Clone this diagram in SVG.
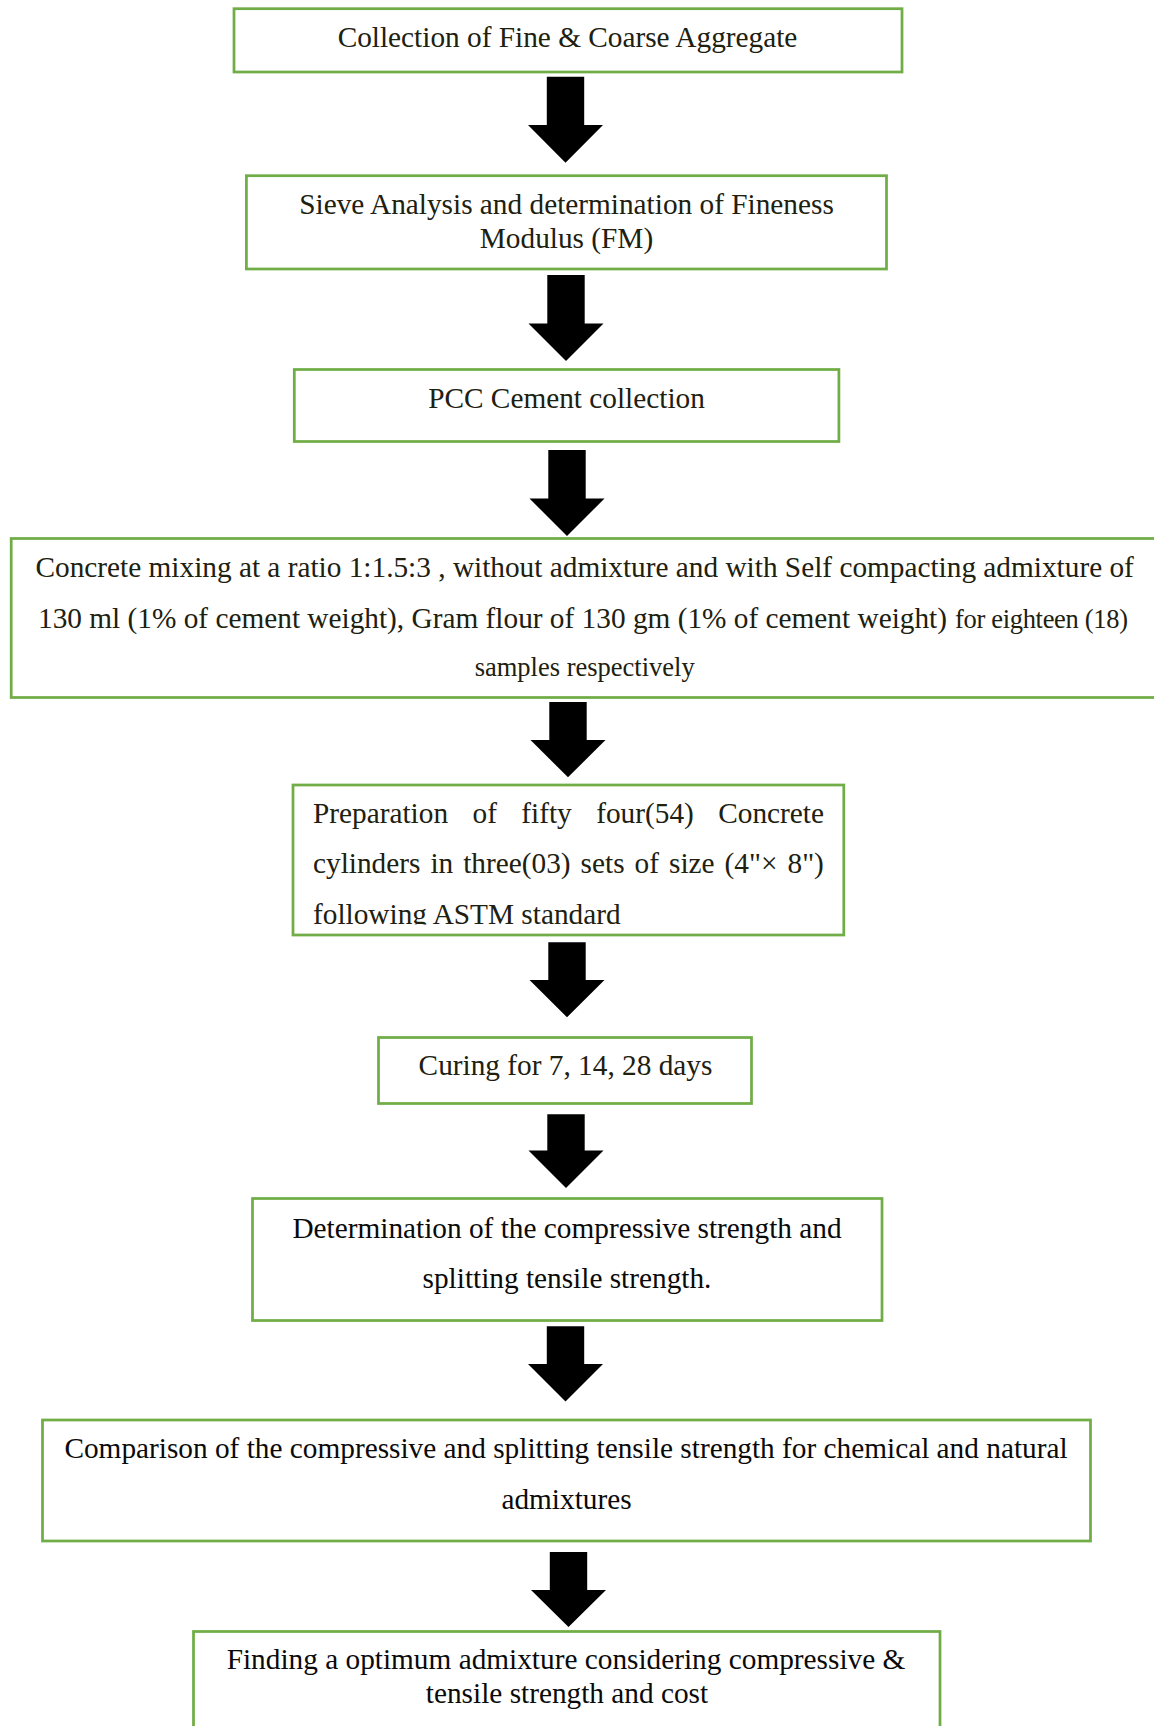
<svg xmlns="http://www.w3.org/2000/svg" width="1154" height="1726" viewBox="0 0 1154 1726">
<style>
.box{fill:#fff;stroke:#70ad47;stroke-width:2.75}
.t{font-family:"Liberation Serif","Times New Roman",serif;font-size:29.3px;fill:#20200f}
.k{fill:#0a0a0a}
.c{text-anchor:middle}
.s{font-size:26.5px}
.arr{fill:#000}
</style>
<defs>
<clipPath id="clip5"><rect x="294" y="786" width="548" height="138.5"/></clipPath>
</defs>
<rect x="0" y="0" width="1154" height="1726" fill="#fff"/>
<g id="connectors">
<polygon class="arr" points="546.8,76.7 584.2,76.7 584.2,125 603,125 565.5,162.7 528,125 546.8,125"/>
<polygon class="arr" points="547.3,275 584.7,275 584.7,323.5 603.5,323.5 566,361 528.5,323.5 547.3,323.5"/>
<polygon class="arr" points="548.3,450 585.7,450 585.7,498.5 604.5,498.5 567,536 529.5,498.5 548.3,498.5"/>
<polygon class="arr" points="549.3,702 586.7,702 586.7,740 605.5,740 568,777.3 530.5,740 549.3,740"/>
<polygon class="arr" points="548.3,942.3 585.7,942.3 585.7,980 604.5,980 567,1017.3 529.5,980 548.3,980"/>
<polygon class="arr" points="547.3,1114.3 584.7,1114.3 584.7,1150.6 603.5,1150.6 566,1188 528.5,1150.6 547.3,1150.6"/>
<polygon class="arr" points="546.8,1326.3 584.2,1326.3 584.2,1364 603,1364 565.5,1401.6 528,1364 546.8,1364"/>
<polygon class="arr" points="549.8,1552 587.2,1552 587.2,1590 606,1590 568.5,1627 531,1590 549.8,1590"/>
</g>
<g id="node1">
<rect class="box" x="234" y="8.7" width="668" height="63.3"/>
<text class="t c" x="567.5" y="47">Collection of Fine &amp; Coarse Aggregate</text>
</g>
<g id="node2">
<rect class="box" x="246.4" y="175.7" width="640.1" height="93.3"/>
<text class="t c" x="566.5" y="213.5">Sieve Analysis and determination of Fineness</text>
<text class="t c" x="566.5" y="248.3">Modulus (FM)</text>
</g>
<g id="node3">
<rect class="box" x="294.3" y="369.5" width="544.6" height="72"/>
<text class="t c" x="566.5" y="408.3">PCC Cement collection</text>
</g>
<g id="node4">
<rect class="box" x="11.2" y="538.5" width="1147" height="159"/>
<text class="t" x="35.5" y="576.7">Concrete mixing at a ratio 1:1.5:3 , without admixture and with Self compacting admixture of</text>
<text class="t" x="38" y="628.3" textLength="909" lengthAdjust="spacing">130 ml (1% of cement weight), Gram flour of 130 gm (1% of cement weight)</text>
<text class="t s" x="955" y="628.3" textLength="173" lengthAdjust="spacing">for eighteen (18)</text>
<text class="t s c" x="584.7" y="675.5">samples respectively</text>
</g>
<g id="node5">
<rect class="box" x="293" y="785" width="550.8" height="150"/>
<g clip-path="url(#clip5)">
<text class="t" y="823.3"><tspan x="313">Preparation</tspan><tspan x="472.5">of</tspan><tspan x="521.3">fifty</tspan><tspan x="596.2">four(54)</tspan><tspan x="718.2">Concrete</tspan></text>
<text class="t" y="873"><tspan x="313">cylinders</tspan><tspan x="430.4">in</tspan><tspan x="463.2">three(03)</tspan><tspan x="580.6">sets</tspan><tspan x="634.6">of</tspan><tspan x="669">size</tspan><tspan x="724.6">(4"×</tspan><tspan x="787.5">8")</tspan></text>
<text class="t" x="313" y="923.5">following ASTM standard</text>
</g>
</g>
<g id="node6">
<rect class="box" x="378.5" y="1037.5" width="373" height="66"/>
<text class="t c" x="565.5" y="1075">Curing for 7, 14, 28 days</text>
</g>
<g id="node7">
<rect class="box" x="252.5" y="1198.5" width="629.5" height="122"/>
<text class="t k c" x="567" y="1237.5">Determination of the compressive strength and</text>
<text class="t k c" x="567" y="1288">splitting tensile strength.</text>
</g>
<g id="node8">
<rect class="box" x="42.5" y="1420" width="1048" height="121"/>
<text class="t k c" x="566" y="1458.3">Comparison of the compressive and splitting tensile strength for chemical and natural</text>
<text class="t k c" x="566.5" y="1509.3">admixtures</text>
</g>
<g id="node9">
<rect class="box" x="193.5" y="1631.5" width="746.5" height="120"/>
<text class="t k c" x="566" y="1669">Finding a optimum admixture considering compressive &amp;</text>
<text class="t k c" x="567" y="1702.6">tensile strength and cost</text>
</g>
</svg>
